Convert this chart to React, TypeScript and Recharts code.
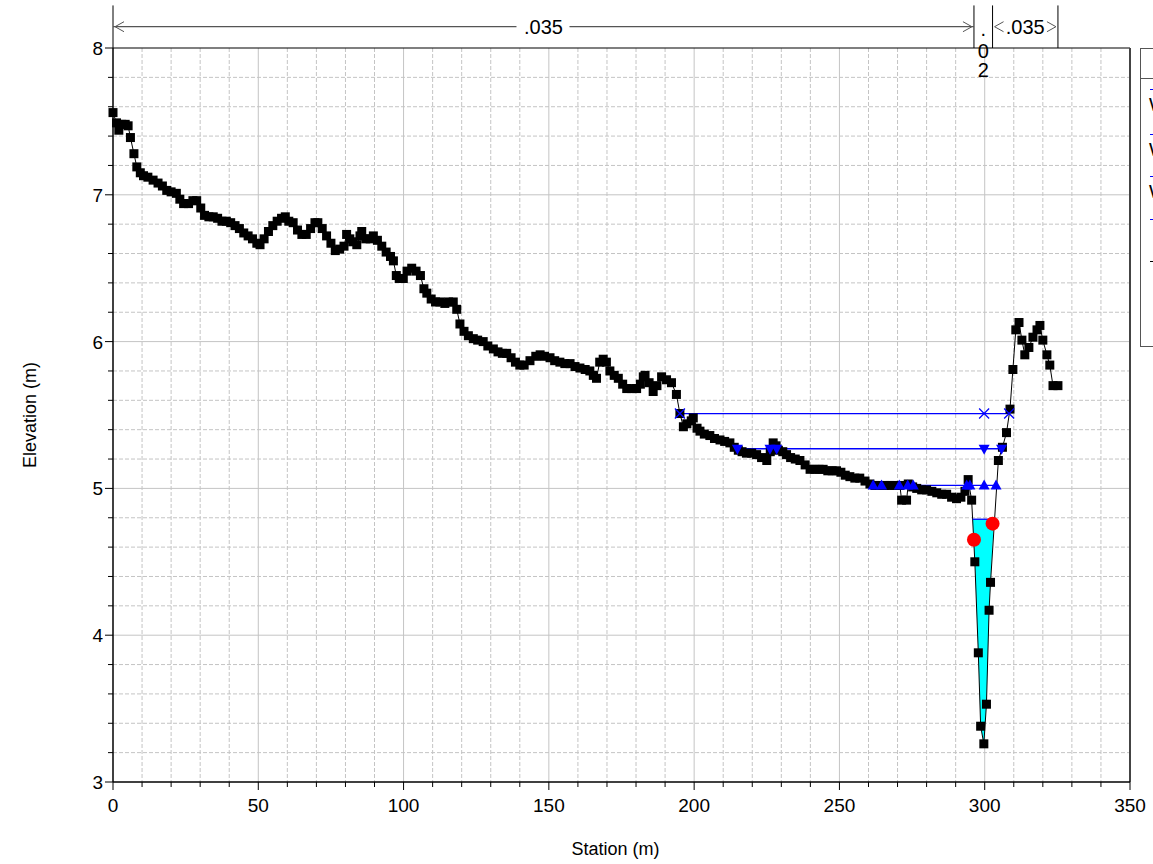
import React from "react";
import {
  Area,
  CartesianGrid,
  ComposedChart,
  Line,
  ReferenceLine,
  Scatter,
  XAxis,
  YAxis
} from "recharts";

// ground profile (station m, elevation m)
const groundStations = [
  0, 1.2, 2, 3, 4.2, 5.2, 6, 7.2, 8.2, 9.4,
  10.5, 12, 13.8, 15.5, 17, 18.5, 20, 21.8, 23, 24.3,
  26, 27.5, 28.8, 30.2, 31.5, 33, 34.5, 36, 37.5, 39,
  40.5, 42, 43.5, 45, 46.5, 48, 49.5, 50.6, 52, 53.5,
  55, 56.5, 58, 59.3, 60.5, 62, 63.5, 65, 66.5, 68,
  69.5, 70.5, 72, 73.5, 75, 76.5, 78, 79.5, 80.4, 81.5,
  82.5, 83.9, 85, 85.6, 87, 88.5, 89.6, 91, 92.5, 94,
  95.5, 96.5, 97.5, 98.5, 99.9, 101.2, 102.8, 104.3, 105.8, 107,
  108, 109.5, 111, 112.5, 114.2, 115.5, 117.1, 118.3, 119.4, 120.8,
  122.3, 124, 125.5, 127.4, 129, 130.9, 132.5, 134, 135.5, 137,
  138.5, 140, 141.5, 143.5, 145.5, 147, 148.5, 150.4, 152, 153.8,
  155.5, 157.3, 159, 160.7, 162.5, 164.1, 165.3, 166.4, 167.5, 168.7,
  169.8, 171, 172.5, 173.9, 175.4, 176.8, 178.5, 180.2, 181.5, 182.5,
  183.1, 184.5, 185.9, 187.2, 188.8, 190.5, 192.2, 193.9, 195.1, 196.3,
  197.5, 199, 199.7, 201, 202, 203.5, 205.4, 207, 208.9, 210.5,
  212.3, 213.8, 215.2, 216.5, 218, 219.8, 221.5, 223.2, 225, 226.2,
  227.2, 228.2, 229, 230.5, 231.8, 233.2, 234.8, 236.4, 238.2, 239.9,
  241.5, 243, 244.4, 246, 247.5, 249, 250.5, 252, 253.6, 255.3,
  257, 258.8, 260.5, 262.2, 263.9, 265.6, 267.4, 269, 270.8, 271.4,
  273.1, 273.7, 275.2, 276.6, 278.3, 280, 281.8, 283.5, 285.2, 286.9,
  288.6, 290.3, 291.8, 293.2, 294.3, 295.5, 296.6, 297.8, 298.6, 299.7,
  300.6, 301.5, 302, 304.7, 306.1, 307.5, 308.7, 309.7, 310.7, 311.8,
  312.8, 313.8, 315.2, 316.6, 318, 319, 320, 321.4, 322.4, 323.5,
  325.2
];
const groundElevations = [
  7.56, 7.49, 7.44, 7.48, 7.48, 7.47, 7.39, 7.28, 7.19, 7.15,
  7.13, 7.12, 7.1, 7.08, 7.06, 7.03, 7.02, 7.01, 6.97, 6.94,
  6.94, 6.96, 6.96, 6.91, 6.86, 6.85, 6.85, 6.84, 6.82, 6.82,
  6.81, 6.79, 6.77, 6.74, 6.72, 6.7, 6.67, 6.66, 6.7, 6.75,
  6.79, 6.82, 6.84, 6.85, 6.82, 6.81, 6.76, 6.73, 6.73, 6.77,
  6.81, 6.81, 6.77, 6.72, 6.67, 6.62, 6.63, 6.65, 6.73, 6.7,
  6.68, 6.66, 6.72, 6.75, 6.7, 6.7, 6.72, 6.69, 6.65, 6.61,
  6.58, 6.55, 6.45, 6.43, 6.43, 6.48, 6.5, 6.48, 6.45, 6.36,
  6.33, 6.29, 6.27, 6.27, 6.26, 6.27, 6.27, 6.22, 6.12, 6.07,
  6.04, 6.02, 6.01, 6.0, 5.97, 5.95, 5.93, 5.92, 5.92, 5.89,
  5.86, 5.84, 5.84, 5.87, 5.9, 5.91, 5.9, 5.89, 5.87, 5.86,
  5.85, 5.85, 5.83, 5.82, 5.81, 5.8, 5.77, 5.75, 5.86, 5.88,
  5.86, 5.8, 5.77, 5.75, 5.71, 5.68, 5.68, 5.68, 5.71, 5.76,
  5.77, 5.72, 5.66, 5.7, 5.76, 5.74, 5.72, 5.64, 5.51, 5.42,
  5.44, 5.46, 5.48, 5.41, 5.39, 5.37, 5.36, 5.34, 5.33, 5.32,
  5.31, 5.28, 5.26, 5.25, 5.24, 5.24, 5.23, 5.21, 5.19, 5.25,
  5.31, 5.29, 5.26, 5.25, 5.23, 5.21, 5.2, 5.19, 5.16, 5.13,
  5.13, 5.13, 5.13, 5.12, 5.12, 5.12, 5.11, 5.09, 5.08, 5.07,
  5.07, 5.05, 5.03, 5.02, 5.02, 5.02, 5.02, 5.02, 5.02, 4.92,
  4.92, 5.03, 5.01, 5.0, 4.99, 4.99, 4.98, 4.97, 4.96, 4.96,
  4.94, 4.93, 4.94, 4.98, 5.06, 4.92, 4.5, 3.88, 3.38, 3.26,
  3.53, 4.17, 4.36, 5.19, 5.28, 5.38, 5.54, 5.81, 6.08, 6.13,
  6.01, 5.91, 5.96, 6.03, 6.08, 6.11, 6.01, 5.91, 5.84, 5.7,
  5.7
];

// water surfaces: level + stations where markers sit
const ws1Elev = 5.51;
const ws1Stations = [195.1, 299.8, 308.4];
const ws2Elev = 5.27;
const ws2Stations = [214.9, 226.1, 228.4, 299.8, 305.8];
const ws3Elev = 5.02;
const ws3Stations = [261.6, 264.5, 270.6, 273.5, 275.4, 293.8, 294.9, 299.8, 303.9];
const ws4Elev = 4.79;
const ws4Stations = [295.84, 303.2];

// channel fill under ws4
const fillStations = [295.84, 296.6, 297.8, 298.6, 299.7, 300.6, 301.5, 302, 303.2];
const fillGround = [4.79, 4.5, 3.88, 3.38, 3.26, 3.53, 4.17, 4.36, 4.79];

// bank stations
const bankStations = [296.3, 302.7];
const bankElevations = [4.65, 4.76];

// Manning's n
const nValues = [".035", ".02", ".035"];
const nBreaks = [0, 296.3, 302.7, 325.2];

const xTicks = [0, 10, 20, 30, 40, 50, 60, 70, 80, 90, 100, 110, 120, 130, 140, 150, 160, 170, 180, 190,
  200, 210, 220, 230, 240, 250, 260, 270, 280, 290, 300, 310, 320, 330, 340, 350];
const xMajor = [50, 100, 150, 200, 250, 300];
const xMinor = [10, 20, 30, 40, 60, 70, 80, 90, 110, 120, 130, 140, 160, 170, 180, 190,
  210, 220, 230, 240, 260, 270, 280, 290, 310, 320, 330, 340];
const yTicks = [3, 3.2, 3.4, 3.6, 3.8, 4, 4.2, 4.4, 4.6, 4.8, 5, 5.2, 5.4, 5.6, 5.8, 6,
  6.2, 6.4, 6.6, 6.8, 7, 7.2, 7.4, 7.6, 7.8, 8];
const yMajor = [4, 5, 6, 7];
const yMinor = [3.2, 3.4, 3.6, 3.8, 4.2, 4.4, 4.6, 4.8, 5.2, 5.4, 5.6, 5.8, 6.2, 6.4, 6.6, 6.8,
  7.2, 7.4, 7.6, 7.8];

const FONT = "'Liberation Sans', Arial, sans-serif";
const BLUE = "#0000ff";
const N_LEVEL = 8.145;

const groundData = groundStations.map((x, i) => ({ x, y: groundElevations[i] }));
const wsLine = (stations: number[], elev: number) => stations.map((x) => ({ x, y: elev }));
const fillData = fillStations.map((x, i) => ({ x, y: [fillGround[i], ws4Elev] }));
const bankData = bankStations.map((x, i) => ({ x, y: bankElevations[i] }));

const isMajorX = (v: number) => v % 50 === 0;
const isMajorY = (v: number) => Math.abs(v - Math.round(v)) < 1e-6;

function XTick(props: any) {
  const { x, y, payload } = props;
  const major = isMajorX(payload.value);
  return (
    <g>
      <line x1={x} y1={y} x2={x} y2={y + (major ? 8 : 5)} stroke="#000" />
      {major && (
        <text x={x} y={y + 30} textAnchor="middle" fontSize={19} fill="#000" fontFamily={FONT}>
          {payload.value}
        </text>
      )}
    </g>
  );
}

function YTick(props: any) {
  const { x, y, payload } = props;
  const major = isMajorY(payload.value);
  return (
    <g>
      <line x1={x} y1={y} x2={x - (major ? 8 : 5)} y2={y} stroke="#000" />
      {major && (
        <text x={x - 10} y={y + 7} textAnchor="end" fontSize={19} fill="#000" fontFamily={FONT}>
          {payload.value}
        </text>
      )}
    </g>
  );
}

const groundDot = (p: any) => (
  <rect key={`g${p.index}`} x={p.cx - 4.5} y={p.cy - 4.5} width={9} height={9} fill="#000" />
);
const xDot = (p: any) => (
  <g key={`x${p.index}`} stroke={BLUE} strokeWidth={1.3}>
    <line x1={p.cx - 5} y1={p.cy - 5} x2={p.cx + 5} y2={p.cy + 5} />
    <line x1={p.cx - 5} y1={p.cy + 5} x2={p.cx + 5} y2={p.cy - 5} />
  </g>
);
const downDot = (p: any) => (
  <polygon key={`d${p.index}`} fill={BLUE}
    points={`${p.cx - 5.5},${p.cy - 4} ${p.cx + 5.5},${p.cy - 4} ${p.cx},${p.cy + 6}`} />
);
const upDot = (p: any) => (
  <polygon key={`u${p.index}`} fill={BLUE}
    points={`${p.cx - 5.5},${p.cy + 4} ${p.cx + 5.5},${p.cy + 4} ${p.cx},${p.cy - 6}`} />
);
const bankDot = (p: any) => <circle cx={p.cx} cy={p.cy} r={7} fill="#ff0000" />;

// chevrons + label for one Manning's n reach
function NReach(props: any) {
  const { x1, x2, y1, label, index } = props;
  const mid = (x1 + x2) / 2;
  const c = "#555";
  if (index === 1) {
    // too narrow: value written one character per row
    return (
      <text x={mid} y={36} fontFamily={FONT} fontSize={20} fill="#000" textAnchor="middle">
        {label.split("").map((ch: string, k: number) => (
          <tspan key={k} x={mid} dy={k === 0 ? 0 : k === 1 ? 22 : 19}>{ch}</tspan>
        ))}
      </text>
    );
  }
  const wide = x2 - x1 > 120;
  return (
    <g>
      {wide && <line x1={x1} y1={y1} x2={mid - 27} y2={y1} stroke={c} strokeWidth={1.2} />}
      {wide && <line x1={mid + 26} y1={y1} x2={x2} y2={y1} stroke={c} strokeWidth={1.2} />}
      <polyline points={`${x1 + 11},${y1 - 5} ${x1 + 2},${y1} ${x1 + 11},${y1 + 5}`} fill="none" stroke={c} />
      <polyline points={`${x2 - 11},${y1 - 5} ${x2 - 2},${y1} ${x2 - 11},${y1 + 5}`} fill="none" stroke={c} />
      <text x={mid} y={y1 + 7} textAnchor="middle" fontSize={20} fontFamily={FONT} fill="#000">{label}</text>
    </g>
  );
}

// legend rows: dash y offset inside the box, text either below the dash or beside it
const legendRows = [
  { text: "WS 100 yr", color: BLUE, dash: 40, below: true, indent: 9 },
  { text: "WS 10 yr", color: BLUE, dash: 85, below: true, indent: 9 },
  { text: "WS 2 yr", color: BLUE, dash: 127, below: true, indent: 9 },
  { text: "WS 1 yr", color: BLUE, dash: 170, below: false, indent: 9 },
  { text: "Ground", color: "#000", dash: 212, below: false, indent: 9 },
  { text: "Bank Sta", color: "#ff0000", dash: 254, below: false, indent: 20 }
];

export default function App() {
  return (
    <div style={{ position: "fixed", left: 0, top: 0, width: 1153, height: 864, overflow: "hidden", background: "#fff", fontFamily: FONT }}>
      <ComposedChart width={1153} height={864} margin={{ top: 48, right: 23, bottom: 0, left: 0 }}>
        <CartesianGrid horizontalValues={yMinor} verticalValues={xMinor} stroke="#c4c4c4" strokeDasharray="4 2" />
        <CartesianGrid horizontalValues={yMajor} verticalValues={xMajor} stroke="#c4c4c4" />
        <XAxis dataKey="x" type="number" domain={[0, 350]} ticks={xTicks} interval={0}
          tick={<XTick />} tickLine={false} tickSize={0} tickMargin={0} height={82}
          axisLine={{ stroke: "#000", strokeWidth: 1.5 }}
          label={{ value: "Station (m)", position: "insideBottom", offset: 9, dx: -6, fontSize: 18, fill: "#000", fontFamily: FONT }} />
        <YAxis type="number" domain={[3, 8]} ticks={yTicks} interval={0}
          tick={<YTick />} tickLine={false} tickSize={0} tickMargin={0} width={113}
          axisLine={{ stroke: "#000", strokeWidth: 1.5 }}
          label={{ value: "Elevation (m)", angle: -90, position: "insideLeft", offset: 30, fontSize: 18, fill: "#000", fontFamily: FONT, style: { textAnchor: "middle" } }} />
        <ReferenceLine y={8} stroke="#000" strokeWidth={1.2} />
        <ReferenceLine x={350} stroke="#444" strokeWidth={2} />
        {nBreaks.map((s) => (
          <ReferenceLine key={`b${s}`} segment={[{ x: s, y: 8 }, { x: s, y: 8.29 }]} ifOverflow="visible" stroke="#000" />
        ))}
        {nValues.map((v, i) => (
          <ReferenceLine key={`n${i}`} segment={[{ x: nBreaks[i], y: N_LEVEL }, { x: nBreaks[i + 1], y: N_LEVEL }]}
            ifOverflow="visible" shape={(p: any) => <NReach {...p} label={v} index={i} />} />
        ))}
        <Area data={fillData} dataKey="y" type="linear" stroke="none" fill="#00ffff" fillOpacity={1}
          isAnimationActive={false} activeDot={false} />
        <Line data={groundData} dataKey="y" type="linear" stroke="#000" strokeWidth={1}
          dot={groundDot} activeDot={false} isAnimationActive={false} />
        <Line data={wsLine(ws1Stations, ws1Elev)} dataKey="y" type="linear" stroke={BLUE} strokeWidth={1.3}
          dot={xDot} activeDot={false} isAnimationActive={false} />
        <Line data={wsLine(ws2Stations, ws2Elev)} dataKey="y" type="linear" stroke={BLUE} strokeWidth={1.3}
          dot={downDot} activeDot={false} isAnimationActive={false} />
        <Line data={wsLine(ws3Stations, ws3Elev)} dataKey="y" type="linear" stroke={BLUE} strokeWidth={1.3}
          dot={upDot} activeDot={false} isAnimationActive={false} />
        <Line data={wsLine(ws4Stations, ws4Elev)} dataKey="y" type="linear" stroke={BLUE} strokeWidth={1.3}
          dot={false} activeDot={false} isAnimationActive={false} />
        <Scatter data={bankData} dataKey="y" shape={bankDot} isAnimationActive={false} />
      </ComposedChart>
      <div style={{ position: "absolute", left: 1140, top: 48, width: 220, height: 299, border: "1px solid #555", background: "#fff", boxSizing: "border-box" }}>
        <div style={{ height: 29, borderBottom: "1px solid #555", fontSize: 19, lineHeight: "29px", textAlign: "center" }}>Legend</div>
        {legendRows.map((r) => (
          <React.Fragment key={r.text}>
            <div style={{ position: "absolute", left: r.indent, top: r.dash, width: 40, borderTop: `1px solid ${r.color}` }} />
            <div style={{ position: "absolute", left: r.below ? 8 : 60, top: r.below ? r.dash + 6 : r.dash - 9, fontSize: 19, lineHeight: 1, whiteSpace: "nowrap" }}>
              {r.text}
            </div>
          </React.Fragment>
        ))}
      </div>
    </div>
  );
}
